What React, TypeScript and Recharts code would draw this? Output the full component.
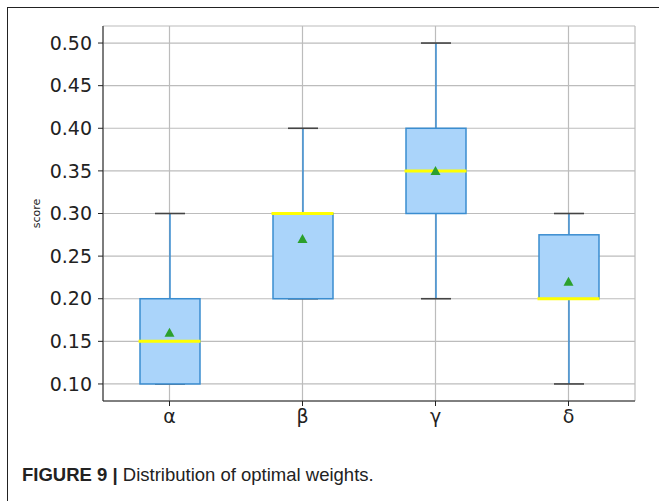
import React from 'react';
import { ComposedChart, Bar, Scatter, XAxis, YAxis, CartesianGrid } from 'recharts';

const categories = ['α', 'β', 'γ', 'δ'];
const whiskerLow = [0.10, 0.20, 0.20, 0.10];
const q1 = [0.10, 0.20, 0.30, 0.20];
const medians = [0.15, 0.30, 0.35, 0.20];
const q3 = [0.20, 0.30, 0.40, 0.275];
const whiskerHigh = [0.30, 0.40, 0.50, 0.30];
const means = [0.16, 0.27, 0.35, 0.22];
const yTicks = [0.10, 0.15, 0.20, 0.25, 0.30, 0.35, 0.40, 0.45, 0.50];

const data = categories.map((name, i) => ({
  name,
  range: [whiskerLow[i], whiskerHigh[i]],
  lo: whiskerLow[i],
  q1: q1[i],
  q3: q3[i],
  hi: whiskerHigh[i],
  median: medians[i],
  mean: means[i],
}));

const FONT = '"DejaVu Sans", Verdana, sans-serif';

// box + whiskers, positions derived from the bar the library laid out
const BoxShape = (props: any) => {
  const { x, y, width, height, payload } = props;
  const h = Math.abs(height);
  const top = Math.min(y, y + height);
  const ppu = h / (payload.hi - payload.lo);
  const yOf = (v: number) => top + (payload.hi - v) * ppu;
  const cx = x + width / 2;
  return (
    <g>
      <line x1={cx} x2={cx} y1={yOf(payload.hi)} y2={yOf(payload.q3)} stroke="#3a8dd0" strokeWidth={1.5} />
      <line x1={cx} x2={cx} y1={yOf(payload.q1)} y2={yOf(payload.lo)} stroke="#3a8dd0" strokeWidth={1.5} />
      <line x1={cx - 15} x2={cx + 15} y1={yOf(payload.hi)} y2={yOf(payload.hi)} stroke="#444" strokeWidth={1.6} />
      <line x1={cx - 15} x2={cx + 15} y1={yOf(payload.lo)} y2={yOf(payload.lo)} stroke="#444" strokeWidth={1.6} />
      <rect
        x={x}
        y={yOf(payload.q3)}
        width={width}
        height={yOf(payload.q1) - yOf(payload.q3)}
        fill="#aad4fa"
        stroke="#3a8dd0"
        strokeWidth={1.5}
      />
    </g>
  );
};

const MedianShape = (props: any) => {
  const { cx, cy } = props;
  return <line x1={cx - 31} x2={cx + 31} y1={cy} y2={cy} stroke="#ffff00" strokeWidth={3} />;
};

const MeanShape = (props: any) => {
  const { cx, cy } = props;
  return <polygon points={`${cx - 5},${cy + 4} ${cx + 5},${cy + 4} ${cx},${cy - 5}`} fill="#2ca02c" />;
};

export default function App() {
  return (
    <div style={{ position: 'absolute', left: 0, top: 0, width: 659, height: 501, background: '#fff' }}>
      <div style={{ position: 'absolute', left: 7, top: 7, right: 0, height: 0, borderTop: '1.5px solid #222' }} />
      <div style={{ position: 'absolute', left: 7, top: 7, bottom: 0, width: 0, borderLeft: '1.5px solid #222' }} />
      <div style={{ position: 'absolute', left: 0, top: 0 }}>
        <ComposedChart width={659} height={440} data={data} margin={{ top: 26, right: 24, left: 0, bottom: 0 }}>
          <CartesianGrid stroke="#bcbcbc" strokeWidth={1.2} />
          <XAxis
            dataKey="name"
            height={39}
            tickSize={5}
            tickMargin={4}
            stroke="#222"
            tick={{ fill: '#222', fontSize: 19, fontFamily: FONT }}
          />
          <XAxis xAxisId="top" dataKey="name" orientation="top" height={0} tick={false} tickLine={false} stroke="#333" />
          <YAxis
            domain={[0.08, 0.52]}
            ticks={yTicks}
            width={103}
            tickSize={5}
            tickMargin={6}
            stroke="#222"
            allowDataOverflow
            tickFormatter={(v: number) => v.toFixed(2)}
            tick={{ fill: '#222', fontSize: 19, fontFamily: FONT }}
            label={{
              content: ({ viewBox }: any) => (
                <text
                  x={viewBox.x + 36}
                  y={viewBox.y + viewBox.height / 2}
                  transform={`rotate(-90, ${viewBox.x + 36}, ${viewBox.y + viewBox.height / 2})`}
                  textAnchor="middle"
                  dominantBaseline="central"
                  fontSize={11}
                  fontFamily={FONT}
                  fill="#222"
                  stroke="none"
                >
                  score
                </text>
              ),
            }}
          />
          <YAxis yAxisId="right" orientation="right" width={0} tick={false} tickLine={false} stroke="#333" />
          <Bar dataKey="range" barSize={60} shape={BoxShape} isAnimationActive={false} />
          <Scatter dataKey="median" shape={MedianShape} isAnimationActive={false} />
          <Scatter dataKey="mean" shape={MeanShape} isAnimationActive={false} />
        </ComposedChart>
      </div>
      <div
        style={{
          position: 'absolute',
          left: 22,
          top: 464,
          fontFamily: '"Liberation Sans Narrow", "Liberation Sans", Arial, sans-serif',
          fontSize: 18.5,
          color: '#222',
          whiteSpace: 'nowrap',
        }}
      >
        <span style={{ fontWeight: 'bold' }}>FIGURE 9 |</span> Distribution of optimal weights.
      </div>
    </div>
  );
}
